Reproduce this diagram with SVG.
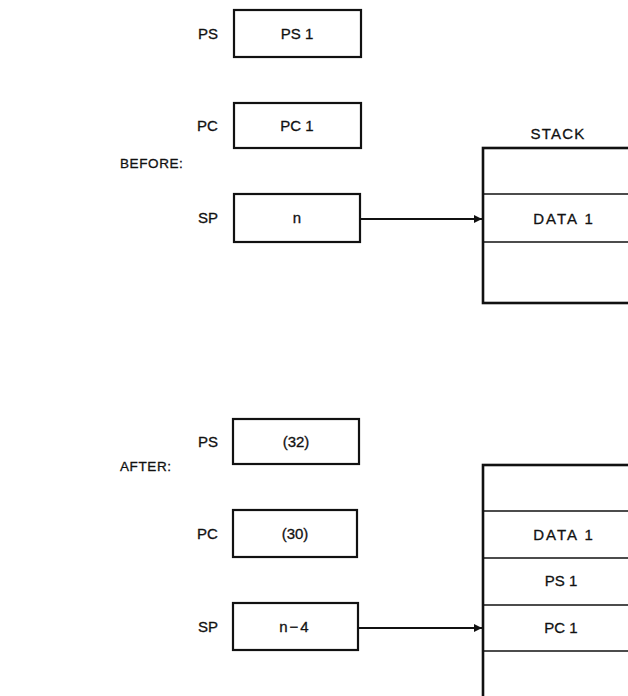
<svg xmlns="http://www.w3.org/2000/svg" width="628" height="696" viewBox="0 0 628 696">
<defs>
<style>
text{font-family:"Liberation Sans",Arial,sans-serif;font-size:15px;fill:#111;stroke:#111;stroke-width:0.3;}
.c{text-anchor:middle;}
.hd{font-size:13.5px;letter-spacing:0.6px;}
.w{letter-spacing:2px;}
.box{fill:#fff;stroke:#111;stroke-width:2.2;}
.stk{fill:#fff;stroke:#111;stroke-width:2.6;}
.div{stroke:#111;stroke-width:1.6;fill:none;}
.conn{stroke:#111;stroke-width:1.8;fill:none;}
</style>
<marker id="ah" viewBox="0 0 10 10" refX="10" refY="5" markerWidth="11" markerHeight="8" markerUnits="userSpaceOnUse" orient="auto">
<path d="M0,0 L10,5 L0,10 z" fill="#111"/>
</marker>
</defs>
<rect width="628" height="696" fill="#fff"/>
<text class="hd" x="120" y="168">BEFORE:</text>
<text class="hd" x="120" y="471">AFTER:</text>
<g id="before-ps"><text x="198" y="39">PS</text><rect class="box" x="234" y="10" width="127" height="47"/><text class="c" x="297" y="39">PS 1</text></g>
<g id="before-pc"><text x="197" y="131">PC</text><rect class="box" x="234" y="103" width="127" height="45"/><text class="c" x="297" y="131">PC 1</text></g>
<g id="before-sp"><text x="198" y="223">SP</text><rect class="box" x="234" y="194" width="126" height="48"/><text class="c" x="297" y="223">n</text></g>
<g id="before-stack"><text class="c" x="558" y="139" style="letter-spacing:1.2px">STACK</text><rect class="stk" x="483" y="148" width="170" height="155"/><line class="div" x1="483" y1="194" x2="640" y2="194"/><line class="div" x1="483" y1="242" x2="640" y2="242"/><text class="c w" x="564" y="224">DATA 1</text></g>
<g id="after-ps"><text x="198" y="447">PS</text><rect class="box" x="233" y="419" width="126" height="45"/><text class="c" x="296" y="447">(32)</text></g>
<g id="after-pc"><text x="197" y="539">PC</text><rect class="box" x="233" y="510" width="124" height="47"/><text class="c" x="295" y="539">(30)</text></g>
<g id="after-sp"><text x="198" y="632">SP</text><rect class="box" x="233" y="603" width="125" height="47"/><text class="c w" x="295" y="632">n−4</text></g>
<g id="after-stack"><rect class="stk" x="483" y="465" width="170" height="240"/><line class="div" x1="483" y1="511" x2="640" y2="511"/><line class="div" x1="483" y1="558" x2="640" y2="558"/><line class="div" x1="483" y1="605" x2="640" y2="605"/><line class="div" x1="483" y1="651" x2="640" y2="651"/><text class="c w" x="564" y="540">DATA 1</text><text class="c" x="561" y="586">PS 1</text><text class="c" x="561" y="633">PC 1</text></g>
<g id="connectors"><line class="conn" x1="361" y1="219" x2="482" y2="219" marker-end="url(#ah)"/><line class="conn" x1="359" y1="628" x2="482" y2="628" marker-end="url(#ah)"/></g>
</svg>
